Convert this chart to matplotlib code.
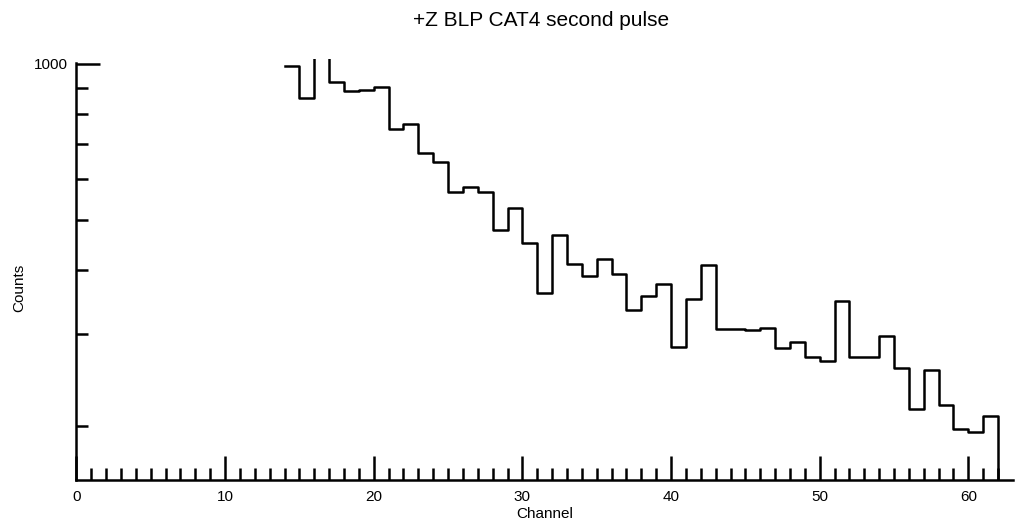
import numpy as np
from matplotlib import pyplot as plt
from matplotlib.ticker import FixedLocator, NullFormatter, FixedFormatter

plt.rcParams['font.family'] = ['Liberation Sans', 'DejaVu Sans']

# bin left edges (channel number) and counts; channel 62 is empty
channels = np.arange(14, 63)
counts = [992, 858, 1090, 923, 887, 892, 903, 748, 766, 673,
          646, 565, 578, 565, 478, 526, 451, 361, 468, 410,
          390, 420, 392, 334, 356, 376, 284, 351, 409, 308,
          308, 306, 309, 282, 290, 271, 267, 348, 271, 272,
          298, 259, 215, 256, 219, 197, 194, 209, 0]

title = "+Z BLP CAT4 second pulse"
x_major = [0, 10, 20, 30, 40, 50, 60]
x_minor = np.arange(0, 63)
y_major = [1000]
y_minor = [200, 300, 400, 500, 600, 700, 800, 900]


def main():
    fig = plt.figure(figsize=(10.16, 5.29), dpi=100)
    ax = fig.add_axes([0.0752, 0.0926, 0.9218, 0.7958])

    ax.step(channels, counts, where='post', color='black', lw=1.8)

    ax.set_yscale('log')
    ax.set_xlim(0, 63)
    ax.set_ylim(157, 1022)

    for side in ['top', 'right']:
        ax.spines[side].set_visible(False)
    for side in ['left', 'bottom']:
        ax.spines[side].set_linewidth(1.8)
    ax.spines['left'].set_bounds(157, 1005)

    ax.xaxis.set_major_locator(FixedLocator(x_major))
    ax.xaxis.set_minor_locator(FixedLocator(x_minor))
    ax.yaxis.set_major_locator(FixedLocator(y_major))
    ax.yaxis.set_major_formatter(FixedFormatter([str(v) for v in y_major]))
    ax.yaxis.set_minor_locator(FixedLocator(y_minor))
    ax.yaxis.set_minor_formatter(NullFormatter())

    ax.tick_params(which='both', direction='in', width=1.8, color='black',
                   labelsize=11)
    ax.tick_params(which='major', length=17)
    ax.tick_params(which='minor', length=8.5)
    ax.tick_params(axis='x', which='major', pad=7)
    ax.tick_params(axis='y', which='major', pad=6)

    ax.set_xlabel("Channel", fontsize=11, labelpad=2)
    ax.set_ylabel("Counts", fontsize=11)
    ax.yaxis.set_label_coords(-0.054, 0.457)

    fig.text(0.533, 1 - 26 / 529, title, ha='center', va='baseline',
             fontsize=15)

    fig.savefig("out.png", dpi=100)


if __name__ == '__main__':
    main()
